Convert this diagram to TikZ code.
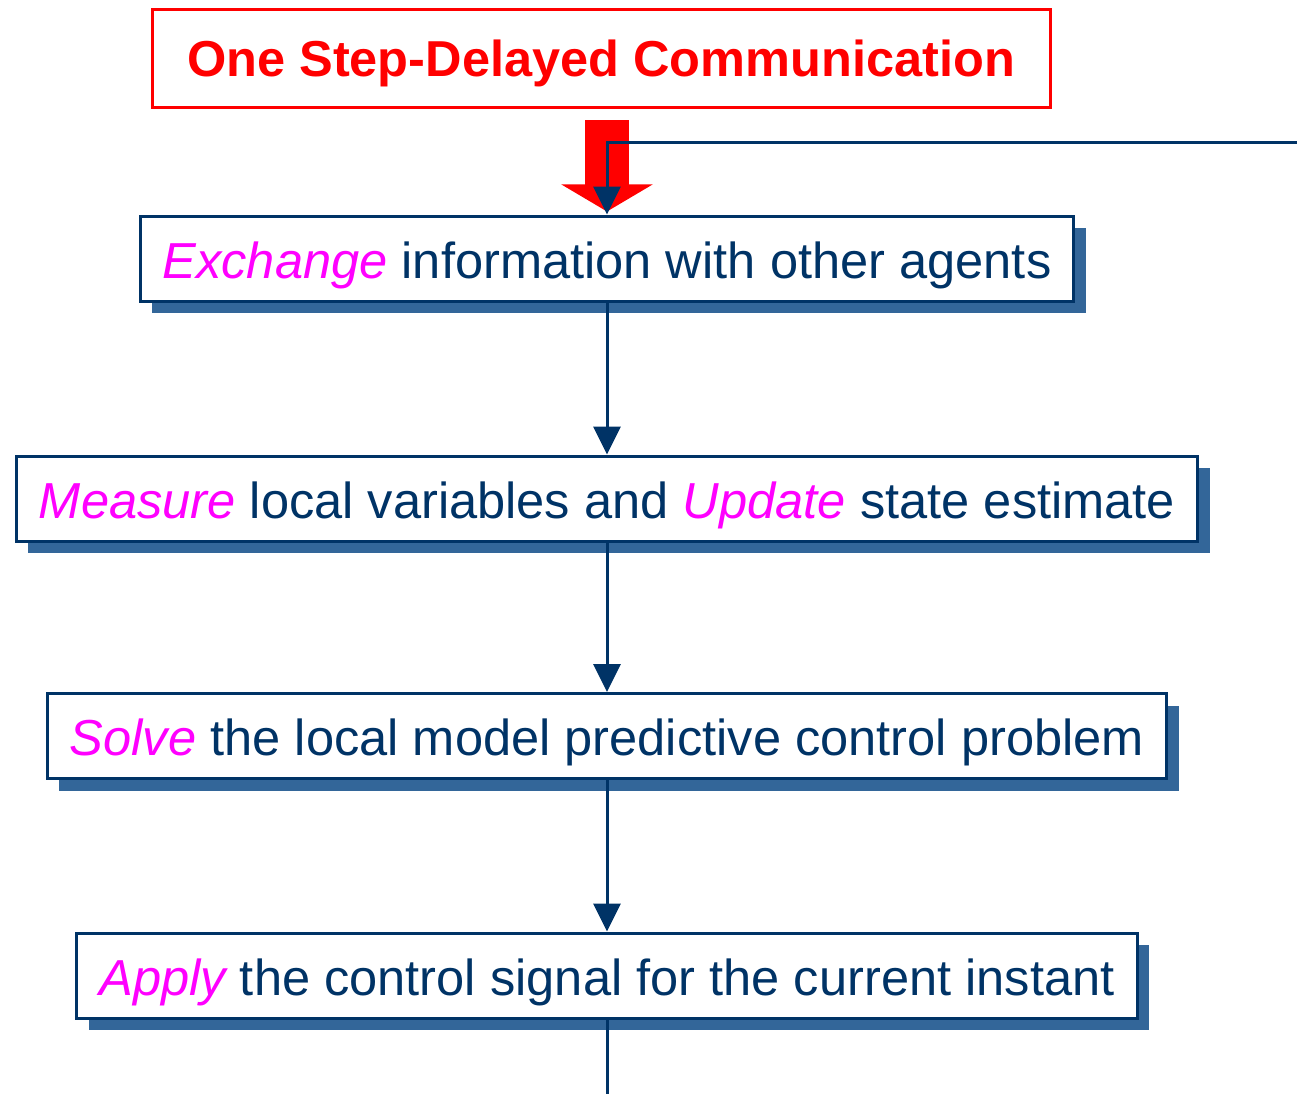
\documentclass[tikz,border=0pt]{standalone}
\usepackage{fontspec}
\setmainfont{Liberation Sans}
\usetikzlibrary{arrows.meta,shadows}

\definecolor{navy}{HTML}{003366}
\definecolor{boxshade}{HTML}{336699}
\definecolor{hot}{HTML}{FF00FF}

\newcommand{\stepword}[1]{\textcolor{hot}{\itshape #1}}

\tikzset{
  stepbox/.style={draw=navy, line width=3pt, fill=white, text=navy,
    inner xsep=22.5pt, minimum height=85pt, text height=39pt, text depth=0pt,
    font=\fontsize{50.6}{60}\selectfont,
    drop shadow={shadow xshift=12pt, shadow yshift=-12pt, fill=boxshade, opacity=1}},
  titlebox/.style={draw=red, line width=3pt, text=red,
    minimum width=898pt, minimum height=98pt, text height=36pt, text depth=0pt,
    font=\fontsize{50.5}{60}\selectfont\bfseries},
  flow/.style={draw=navy, line width=3pt, -{Triangle[width=27pt,length=28pt]}},
}

\begin{document}
\begin{tikzpicture}[x=1pt,y=-1pt]
      \useasboundingbox (0,0) rectangle (1297,1094);

      \node[titlebox] (title) at (601,59) {One Step-Delayed Communication};
      \node[stepbox] (exch) at (607,258.5) {\stepword{Exchange} information with other agents};
      \node[stepbox] (meas) at (607,498.5) {\stepword{Measure} local variables and \stepword{Update} state estimate};
      \node[stepbox] (solve) at (607,736) {\stepword{Solve} the local model predictive control problem};
      \node[stepbox] (apply) at (607,975.5) {\stepword{Apply} the control signal for the current instant};

      \coordinate (loopin) at (1297,143);
      \coordinate (loopout) at (607,1094);

      % fat red arrow from the title down to the first step
      \draw[red, line width=44pt, -{Triangle[width=90pt,length=27pt]}]
        ([yshift=-11pt]title.south -| exch.north) -- ([yshift=3pt]exch.north);

      \draw[flow] (loopin) -- (loopin -| exch.north) -- (exch.north);
      \draw[flow] (exch) -- (meas);
      \draw[flow] (meas) -- (solve);
      \draw[flow] (solve) -- (apply);
      \draw[navy, line width=3pt] (apply) -- (loopout);
    \end{tikzpicture}
\end{document}
